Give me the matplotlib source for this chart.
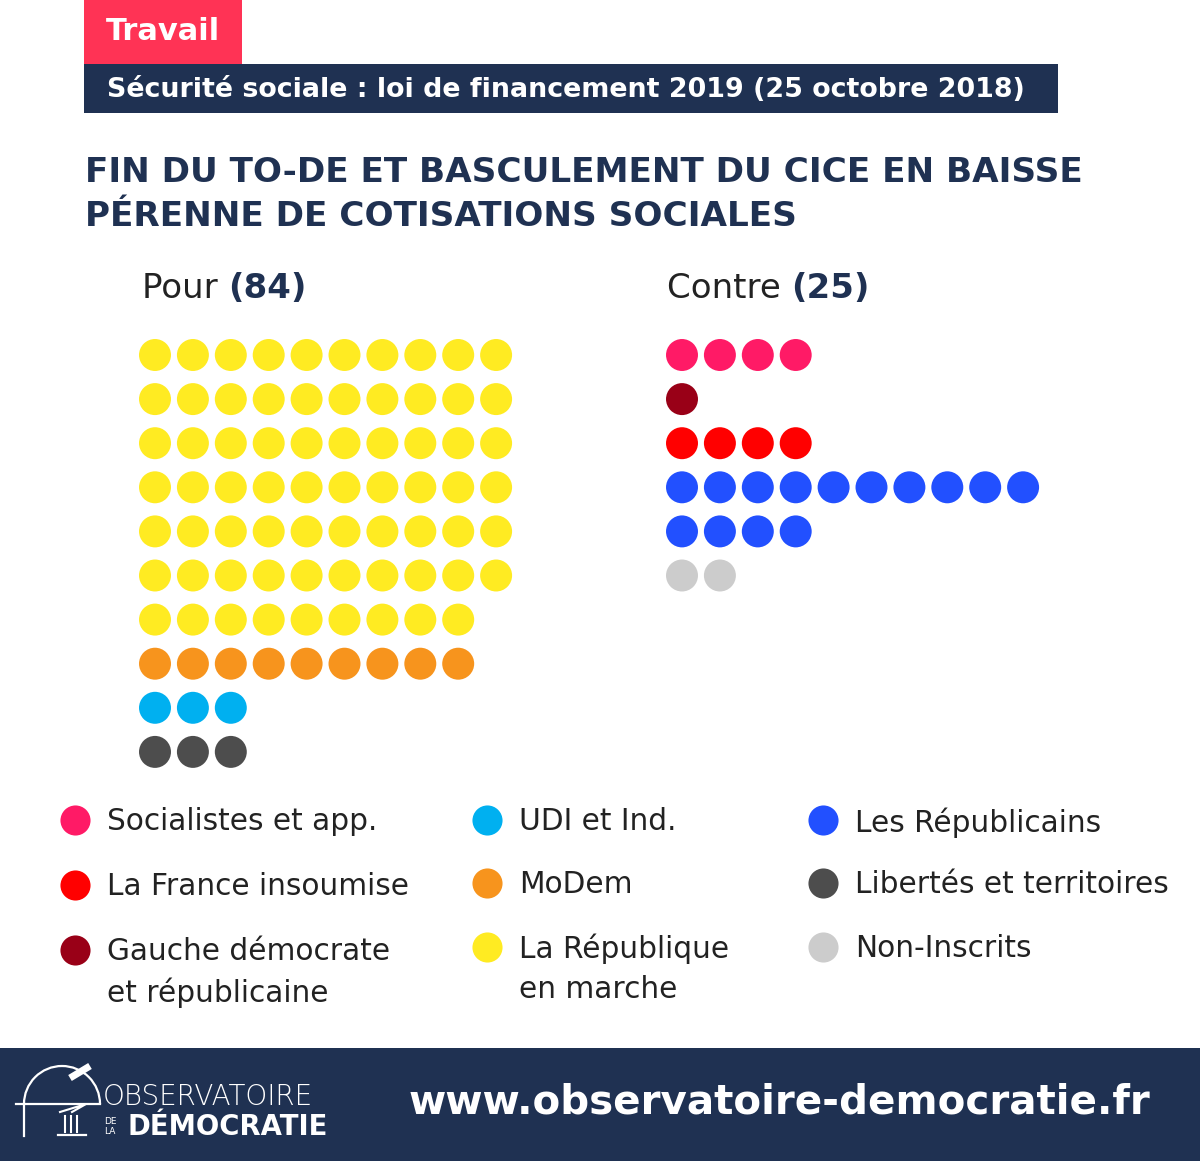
import matplotlib
matplotlib.use("Agg")
import matplotlib.pyplot as plt
from matplotlib.patches import Rectangle, Arc

# data
pour_groups = ["La République en marche", "MoDem", "UDI et Ind.", "Libertés et territoires"]
pour_counts = [69, 9, 3, 3]
contre_groups = ["Socialistes et app.", "Gauche démocrate et républicaine",
                 "La France insoumise", "Les Républicains", "Non-Inscrits"]
contre_counts = [4, 1, 4, 14, 2]

colors = {
    "Socialistes et app.": "#FF1A66",
    "La France insoumise": "#FF0000",
    "Gauche démocrate et républicaine": "#990017",
    "UDI et Ind.": "#00B0F0",
    "MoDem": "#F7941D",
    "La République en marche": "#FFEB22",
    "Les Républicains": "#2250FF",
    "Libertés et territoires": "#4D4D4D",
    "Non-Inscrits": "#CCCCCC",
}
legend_cols = [
    ["Socialistes et app.", "La France insoumise", "Gauche démocrate\net républicaine"],
    ["UDI et Ind.", "MoDem", "La République\nen marche"],
    ["Les Républicains", "Libertés et territoires", "Non-Inscrits"],
]

NAVY = "#1F3152"
FONT = "DejaVu Sans"

fig = plt.figure(figsize=(12, 11.61), dpi=100)
ax = fig.add_axes([0, 0, 1, 1])
ax.set_xlim(0, 1200)
ax.set_ylim(1161, 0)
ax.axis("off")

# header
ax.add_patch(Rectangle((84, 0), 158, 64, color="#FF3355", lw=0))
ax.text(163, 31, "Travail", color="white", fontsize=22, fontweight="bold",
        family=FONT, ha="center", va="center")
ax.add_patch(Rectangle((84, 64), 974, 49, color=NAVY, lw=0))
ax.text(107, 90, "Sécurité sociale : loi de financement 2019 (25 octobre 2018)",
        color="white", fontsize=19.4, fontweight="bold", family=FONT, va="center")

ax.text(85, 172, "FIN DU TO-DE ET BASCULEMENT DU CICE EN BAISSE", color=NAVY,
        fontsize=24.7, fontweight="bold", family=FONT, va="center")
ax.text(85, 216, "PÉRENNE DE COTISATIONS SOCIALES", color=NAVY,
        fontsize=24.7, fontweight="bold", family=FONT, va="center")

fig.canvas.draw()
renderer = fig.canvas.get_renderer()


def mixed_label(x, y, word, count):
    t = ax.text(x, y, word + " ", color="#222222", fontsize=24.5, family=FONT, va="center")
    bb = t.get_window_extent(renderer)
    ax.text(x + bb.width, y, f"({count})", color=NAVY, fontsize=24.5,
            fontweight="bold", family=FONT, va="center")


mixed_label(142, 289, "Pour", sum(pour_counts))
mixed_label(667, 289, "Contre", sum(contre_counts))

# dot grids: each group starts a new row, max 10 per row
DX, DY, SIZE = 37.9, 44.1, 530


def dot_block(x0, y0, groups, counts):
    xs, ys, cs = [], [], []
    row = 0
    for g, n in zip(groups, counts):
        for i in range(n):
            xs.append(x0 + (i % 10) * DX)
            ys.append(y0 + (row + i // 10) * DY)
            cs.append(colors[g])
        row += (n + 9) // 10
    ax.scatter(xs, ys, s=SIZE, c=cs, linewidths=0)


dot_block(155, 355, pour_groups, pour_counts)
dot_block(682, 355, contre_groups, contre_counts)

# legend
col_x = [75, 487, 823]
row_y = [[820, 885, 950], [820, 883, 947], [820, 883, 947]]
for cx, ys, labels in zip(col_x, row_y, legend_cols):
    for y, lab in zip(ys, labels):
        key = lab.replace("\n", " ")
        ax.scatter([cx], [y], s=470, c=colors[key], linewidths=0)
        ax.text(cx + 32, y - 13, lab, color="#222222", fontsize=21.3, family=FONT,
                va="top", linespacing=1.45)

# footer
ax.add_patch(Rectangle((0, 1048), 1200, 113, color=NAVY, lw=0))
ax.text(1150, 1103, "www.observatoire-democratie.fr", color="white", fontsize=29.1,
        fontweight="bold", family=FONT, ha="right", va="center")

# logo
ax.add_patch(Arc((62, 1104), 76, 76, theta1=180, theta2=360, color="white", lw=1.6))
ax.plot([16, 100], [1104, 1104], color="white", lw=1.6)
ax.plot([24, 24], [1104, 1136], color="white", lw=1.6)
ax.plot([70, 90], [1078, 1066], color="white", lw=5, solid_capstyle="butt")
ax.plot([72, 86, 60], [1112, 1104, 1112], color="white", lw=1.5)
for bx in [65, 71, 77]:
    ax.plot([bx, bx], [1116, 1132], color="white", lw=1.5)
ax.plot([58, 86], [1135, 1135], color="white", lw=1.6)
ax.text(103, 1097, "OBSERVATOIRE", color="white", fontsize=20, family=FONT,
        fontweight="light", va="center")
ax.text(104, 1121, "DE", color="white", fontsize=6.5, family=FONT, va="center")
ax.text(104, 1132, "LA", color="white", fontsize=6.5, family=FONT, va="center")
ax.text(127, 1127, "DÉMOCRATIE", color="white", fontsize=19.8, family=FONT,
        fontweight="bold", va="center")

fig.savefig("out.png", dpi=100)
